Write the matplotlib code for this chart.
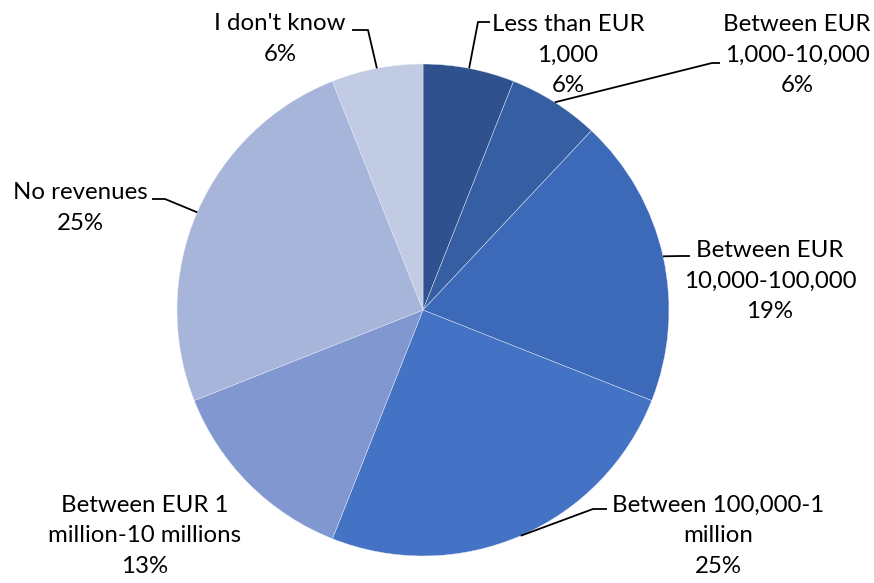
import matplotlib.pyplot as plt
import numpy as np

# Revenue categories, clockwise from the top
categories = [
    'Less than EUR\n1,000',
    'Between EUR\n1,000-10,000',
    'Between EUR\n10,000-100,000',
    'Between 100,000-1\nmillion',
    'Between EUR 1\nmillion-10 millions',
    'No revenues',
    "I don't know",
]
shares = [6, 6, 19, 25, 13, 25, 6]
colors = ['#2F528F', '#355EA3', '#3D6AB8', '#4472C4', '#8097CF', '#A8B5DA', '#C2CBE4']

# label centres and leader elbows (pixel space, y from top); None = no leader
label_pos = [(568, 55), (797, 55), (770, 281), (718, 536), (145, 536), (80, 208), (280, 39)]
elbows = [[(478, 22), (490, 22)],
          [(712, 63), (720, 63)],
          [(680, 256), (690, 256)],
          [(593, 509), (607, 509)],
          None,
          [(165, 199), (152, 199)],
          [(368, 30), (352, 30)]]

W, H = 874, 583
cx, cy, r = 423, 310, 246

plt.rcParams['font.family'] = ['Lato', 'DejaVu Sans']
fig = plt.figure(figsize=(W / 100, H / 100), dpi=100)
ax = fig.add_axes([0, 0, 1, 1])

wedges, _ = ax.pie(shares, colors=colors, startangle=90, counterclock=False,
                   center=(cx, H - cy), radius=r,
                   wedgeprops=dict(edgecolor='#E8ECF5', linewidth=0.3))
ax.set_xlim(0, W)
ax.set_ylim(0, H)
ax.set_aspect('equal')
ax.axis('off')

for w, cat, val, (lx, ly), elb in zip(wedges, categories, shares, label_pos, elbows):
    ax.text(lx, H - ly, f'{cat}\n{val}%', ha='center', va='center',
            multialignment='center', fontsize=17.3, linespacing=1.55, color='black')
    if elb is None:
        continue
    mid = np.deg2rad((w.theta1 + w.theta2) / 2)
    px, py = cx + r * np.cos(mid), (H - cy) + r * np.sin(mid)
    xs = [px] + [e[0] for e in elb]
    ys = [py] + [H - e[1] for e in elb]
    ax.plot(xs, ys, color='black', lw=1.3, solid_capstyle='butt')

fig.savefig('out.png', dpi=100)
